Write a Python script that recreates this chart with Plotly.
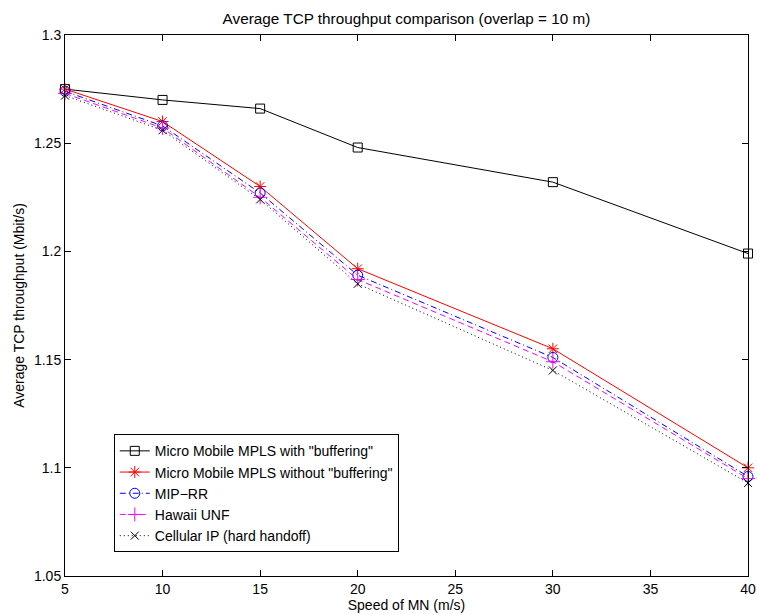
import plotly.graph_objects as go

speed = [5, 10, 15, 20, 30, 40]
mpls_buffer = [1.275, 1.270, 1.266, 1.248, 1.232, 1.199]
mpls_nobuffer = [1.275, 1.260, 1.230, 1.192, 1.155, 1.100]
mip_rr = [1.274, 1.258, 1.227, 1.189, 1.151, 1.096]
hawaii_unf = [1.273, 1.257, 1.225, 1.187, 1.149, 1.095]
cellular_ip = [1.272, 1.256, 1.224, 1.185, 1.145, 1.093]

names = ['Micro Mobile MPLS with "buffering"',
         'Micro Mobile MPLS without "buffering"',
         'MIP\u2212RR',
         'Hawaii UNF',
         'Cellular IP (hard handoff)']

x_ticks = [5, 10, 15, 20, 25, 30, 35, 40]
x_ticktext = ["5", "10", "15", "20", "25", "30", "35", "40"]
y_ticks = [1.05, 1.1, 1.15, 1.2, 1.25, 1.3]
y_ticktext = ["1.05", "1.1", "1.15", "1.2", "1.25", "1.3"]

FONT = "Liberation Sans, Arial, Helvetica, sans-serif"
FS = 14

styles = [
    dict(color="black", dash="solid", symbol="square-open", size=9),
    dict(color="#ff0000", dash="solid", symbol="asterisk-open", size=10),
    dict(color="#0000ff", dash="6px,3px,1px,3px", symbol="circle-open", size=10),
    dict(color="#ff00ff", dash="6px,4px", symbol="cross-thin-open", size=10),
    dict(color="black", dash="1px,3px", symbol="x-thin-open", size=8),
]
series = [mpls_buffer, mpls_nobuffer, mip_rr, hawaii_unf, cellular_ip]

fig = go.Figure()
for name, ys, st in zip(names, series, styles):
    fig.add_trace(go.Scatter(
        x=speed, y=ys, name=name, mode="lines+markers",
        line=dict(color=st["color"], width=1, dash=st["dash"]),
        marker=dict(symbol=st["symbol"], size=st["size"], color=st["color"],
                    line=dict(color=st["color"], width=1)),
        cliponaxis=False,
    ))

axis_common = dict(
    showline=True, linecolor="black", linewidth=1, mirror="ticks",
    ticks="inside", ticklen=6, tickcolor="black", tickwidth=1,
    showgrid=False, zeroline=False, automargin=False,
    tickfont=dict(family=FONT, size=FS, color="black"),
)

fig.update_layout(
    width=757, height=615,
    margin=dict(l=65, r=9, t=35, b=39, autoexpand=False),
    paper_bgcolor="white", plot_bgcolor="white",
    font=dict(family=FONT, size=FS, color="black"),
    title=dict(text="Average TCP throughput comparison (overlap = 10 m)",
               x=0.5, xanchor="center", y=1 - 19 / 615, yanchor="middle",
               xref="paper", yref="container", automargin=False,
               font=dict(family=FONT, size=15.3, color="black")),
    xaxis=dict(range=[5, 40.0001], tickvals=x_ticks, ticktext=x_ticktext,
               ticklabeloverflow="allow",
               title=dict(text="Speed of MN (m/s)", standoff=0,
                          font=dict(family=FONT, size=FS)),
               **axis_common),
    yaxis=dict(range=[1.05, 1.3], tickvals=y_ticks, ticktext=y_ticktext,
               title=dict(text="Average TCP throughput (Mbit/s)", standoff=6,
                          font=dict(family=FONT, size=FS)),
               **axis_common),
    legend=dict(x=0.0714, y=0.262, xanchor="left", yanchor="top",
                bgcolor="white", bordercolor="black", borderwidth=1,
                font=dict(family=FONT, size=FS, color="black"),
                tracegroupgap=0, itemwidth=30),
    showlegend=True,
)

fig.write_html("out.html",
               config={"displayModeBar": False},
               post_script="document.body.style.margin='0px';document.body.style.overflow='hidden';")
